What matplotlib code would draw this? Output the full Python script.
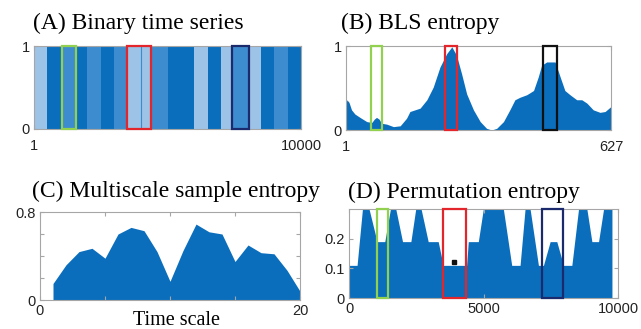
import numpy as np
import matplotlib
matplotlib.use('agg')
import matplotlib.pyplot as plt
from matplotlib.patches import Rectangle

# colours
fill_blue = '#0a6ebd'
shade_colors = {'light': '#9dc3e6', 'mid': '#3d8ccf', 'dark': '#0a6ebd'}
box_colors = {'green': '#92d050', 'red': '#e3262b', 'navy': '#1a2a6c', 'black': '#111111'}

# (A) binary time series stripes
stripe_starts = [0, 500, 1000, 1570, 2000, 2500, 3000, 3500, 4000, 4350,
                 5000, 6000, 6500, 7000, 7400, 8000, 8500, 9000, 9500]
stripe_shades = ['light', 'dark', 'mid', 'dark', 'mid', 'dark', 'mid', 'light', 'light', 'mid',
                 'dark', 'light', 'dark', 'light', 'mid', 'light', 'dark', 'mid', 'dark']
stripe_dividers = [4000]
boxes_a = [(1030, 1570, 'green'), (3470, 4380, 'red'), (7400, 8070, 'navy')]

# (B) BLS entropy
bls_idx = [1, 3, 8, 14, 22, 34, 50, 62, 68, 73, 79, 85, 97, 113, 129, 144, 152, 164, 176,
           192, 207, 223, 239, 251, 262, 274, 286, 302, 318, 333, 345, 357, 373, 388,
           400, 412, 428, 444, 455, 463, 475, 495, 507, 518, 530, 546, 558, 570, 585,
           601, 613, 627]
bls_val = [0.30, 0.36, 0.33, 0.24, 0.19, 0.15, 0.10, 0.09, 0.13, 0.15, 0.13, 0.08, 0.07, 0.04,
           0.05, 0.14, 0.22, 0.24, 0.26, 0.36, 0.51, 0.75, 0.91, 0.99, 0.89, 0.67, 0.43,
           0.24, 0.10, 0.02, 0.0, 0.02, 0.10, 0.24, 0.36, 0.39, 0.42, 0.47, 0.63, 0.77,
           0.81, 0.81, 0.63, 0.47, 0.42, 0.36, 0.36, 0.32, 0.24, 0.21, 0.22, 0.28]
boxes_b = [(59, 87, 'green'), (235, 264, 'red'), (467, 499, 'black')]

# (C) multiscale sample entropy
mse_scale = list(range(1, 21))
mse_val = [0.15, 0.32, 0.44, 0.47, 0.38, 0.60, 0.66, 0.63, 0.44, 0.17,
           0.45, 0.69, 0.62, 0.60, 0.35, 0.50, 0.43, 0.42, 0.27, 0.08]

# (D) permutation entropy
pe_t = [0, 300, 500, 745, 1043, 1330, 1540, 1739, 1990, 2300, 2480, 2680, 2944, 3316,
        3502, 4372, 4434, 4807, 4993, 5738, 6049, 6359, 6545, 6732, 7042, 7228, 7477,
        7725, 7974, 8284, 8533, 8843, 9029, 9277, 9464, 9775]
pe_val = [0.11, 0.11, 0.30, 0.30, 0.19, 0.19, 0.30, 0.30, 0.19, 0.19, 0.30, 0.30, 0.19, 0.19,
          0.11, 0.11, 0.19, 0.19, 0.30, 0.30, 0.11, 0.11, 0.30, 0.30, 0.11, 0.11, 0.19,
          0.19, 0.11, 0.11, 0.30, 0.30, 0.19, 0.19, 0.30, 0.30]
pe_marker = (3900, 0.122)
boxes_d = [(1050, 1460, 'green'), (3480, 4350, 'red'), (7190, 7970, 'navy')]

W, H = 641, 329
fig = plt.figure(figsize=(W / 100, H / 100), dpi=100)
serif = ['Liberation Serif', 'DejaVu Serif']
sans = ['Liberation Sans', 'DejaVu Sans']
spine_col = '#a6a6a6'


def px_axes(x0, y0, x1, y1):
    return fig.add_axes([x0 / W, 1 - y1 / H, (x1 - x0) / W, (y1 - y0) / H])


def style(ax):
    for s in ax.spines.values():
        s.set_color(spine_col)
        s.set_linewidth(0.8)
    ax.tick_params(direction='in', length=3, color=spine_col, labelcolor='#222222',
                   labelsize=10.5, top=True, right=True, pad=3)
    for lab in ax.get_xticklabels() + ax.get_yticklabels():
        lab.set_family(sans)


def draw_boxes(ax, boxes, ytop):
    for x0, x1, c in boxes:
        ax.add_patch(Rectangle((x0, 0), x1 - x0, ytop, fill=False, edgecolor=box_colors[c],
                               linewidth=1.6, clip_on=False, zorder=5))


# (A)
axA = px_axes(34, 46, 301, 129)
widths = np.diff(stripe_starts + [10000])
axA.bar(stripe_starts, 1, width=widths, align='edge',
        color=[shade_colors[s] for s in stripe_shades], linewidth=0)
for d in stripe_dividers:
    axA.axvline(d, color=shade_colors['mid'], lw=0.8)
draw_boxes(axA, boxes_a, 1)
axA.set_xlim(0, 10000)
axA.set_ylim(0, 1)
axA.set_xticks([0, 10000], ['1', '10000'])
axA.set_yticks([0, 1], ['0', '1'])
style(axA)
axA.tick_params(axis='x', pad=7)

# (B)
axB = px_axes(346, 46, 611, 130)
axB.fill_between(bls_idx, bls_val, 0, color=fill_blue, linewidth=0)
draw_boxes(axB, boxes_b, 1)
axB.set_xlim(1, 627)
axB.set_ylim(0, 1)
axB.set_xticks([1, 627])
axB.set_yticks([0, 1])
style(axB)
axB.tick_params(axis='x', pad=7)

# (C)
axC = px_axes(40, 212, 300, 300)
axC.fill_between(mse_scale, mse_val, 0, color=fill_blue, linewidth=0)
axC.set_xlim(0, 20)
axC.set_ylim(0, 0.8)
axC.set_xticks([0, 5, 10, 15, 20], ['0', '', '', '', '20'])
axC.set_yticks([0, 0.2, 0.4, 0.6, 0.8], ['0', '', '', '', '0.8'])
style(axC)

# (D)
axD = px_axes(349, 209, 618, 298)
axD.fill_between(pe_t, pe_val, 0, color=fill_blue, linewidth=0)
axD.plot([pe_marker[0]], [pe_marker[1]], 's', color='#111111', ms=3.5)
draw_boxes(axD, boxes_d, 0.3)
axD.set_xlim(0, 10000)
axD.set_ylim(0, 0.3)
axD.set_xticks([0, 5000, 10000])
axD.set_yticks([0, 0.1, 0.2], ['0', '0.1', '0.2'])
style(axD)

# titles
tfs = 17
fig.text(33 / W, 1 - 29 / H, '(A) Binary time series', family=serif, fontsize=tfs, va='baseline')
fig.text(341 / W, 1 - 29 / H, '(B) BLS entropy', family=serif, fontsize=tfs, va='baseline')
fig.text(32 / W, 1 - 197 / H, '(C) Multiscale sample entropy', family=serif, fontsize=tfs,
         va='baseline')
fig.text(348 / W, 1 - 198 / H, '(D) Permutation entropy', family=serif, fontsize=tfs,
         va='baseline')
fig.text(177 / W, 1 - 325 / H, 'Time scale', family=serif, fontsize=14.5, va='baseline',
         ha='center')

fig.savefig('out.png', dpi=100)
plt.close(fig)
